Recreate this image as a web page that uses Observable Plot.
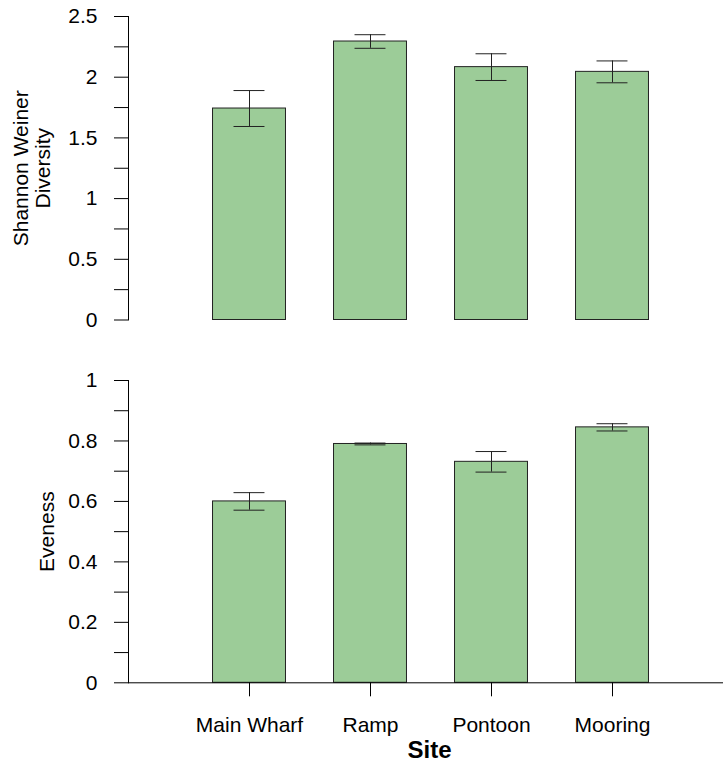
<!DOCTYPE html>
<html>
<head>
<meta charset="utf-8">
<script src="https://cdn.jsdelivr.net/npm/d3@7"></script>
<script src="https://cdn.jsdelivr.net/npm/@observablehq/plot@0.6"></script>
<style>
  html, body { margin: 0; padding: 0; background: #fff; }
  #chart { width: 723px; }
  #chart svg { display: block; }
</style>
</head>
<body>
<div id="chart"></div>
<script>
const sites = ["Main Wharf", "Ramp", "Pontoon", "Mooring"];
const shannonMean = [1.742, 2.294, 2.083, 2.044];
const shannonSE = [0.148, 0.056, 0.110, 0.090];
const evenMean = [0.600, 0.790, 0.731, 0.845];
const evenSE = [0.029, 0.003, 0.034, 0.012];
const shannonMajor = [0, 0.5, 1, 1.5, 2, 2.5];
const shannonMinor = [0.25, 0.75, 1.25, 1.75, 2.25];
const evenMajor = [0, 0.2, 0.4, 0.6, 0.8, 1];
const evenMinor = [0.1, 0.3, 0.5, 0.7, 0.9];

const FONT = "'Liberation Sans', Arial, Helvetica, sans-serif";
const FILL = "#9ccc98";
const STROKE = "#222";

function rows(mean, se) {
  return sites.map((s, i) => ({site: s, mean: mean[i], lo: mean[i] - se[i], hi: mean[i] + se[i]}));
}

const xOpts = {
  type: "band",
  domain: sites,
  range: [188.5, 672.5],
  paddingInner: 0.397,
  paddingOuter: 0.1985,
  round: false,
  label: null
};

function panel({data, height, marginTop, marginBottom, yDomain, major, minor, title, titleDx, lineHeight, showX}) {
  const marks = [
    Plot.barY(data, {x: "site", y: "mean", fill: FILL, stroke: STROKE, strokeWidth: 1}),
    Plot.ruleX(data, {x: "site", y1: "lo", y2: "hi", stroke: STROKE, strokeWidth: 1}),
    Plot.tickY(data, {x: "site", y: "lo", insetLeft: 21, insetRight: 21, stroke: STROKE, strokeWidth: 1}),
    Plot.tickY(data, {x: "site", y: "hi", insetLeft: 21, insetRight: 21, stroke: STROKE, strokeWidth: 1}),
    Plot.axisY({ticks: major, tickSize: 14, tickPadding: 17, tickFormat: d => `${d}`, fontSize: 21, label: null, stroke: "#000"}),
    Plot.axisY({ticks: minor, tickSize: 14, tickFormat: () => "", label: null, stroke: "#000"}),
    Plot.frame({anchor: "left", stroke: "#000"}),
    Plot.text([title], {text: d => d, frameAnchor: "left", textAnchor: "middle", rotate: -90, dx: titleDx, fontSize: 21, lineHeight, fill: "#000"})
  ];
  if (showX) {
    marks.push(
      Plot.frame({anchor: "bottom", stroke: "#000"}),
      Plot.axisX({tickSize: 14, tickPadding: 20, fontSize: 21, label: null, stroke: "#000"}),
      Plot.text(["Site"], {text: d => d, frameAnchor: "bottom", textAnchor: "middle", lineAnchor: "top", dx: 3.5, dy: 57.7, fontSize: 24, fontWeight: "bold", fill: "#000"})
    );
  }
  return Plot.plot({
    width: 723,
    height,
    marginTop,
    marginBottom,
    marginLeft: 128,
    marginRight: 0,
    style: {fontFamily: FONT, fontSize: "21px", color: "#000", background: "#fff"},
    x: {...xOpts, axis: null},
    y: {domain: yDomain, label: null, axis: null},
    marks
  });
}

const chart = document.getElementById("chart");
chart.appendChild(panel({
  data: rows(shannonMean, shannonSE),
  height: 340, marginTop: 16, marginBottom: 20.5,
  yDomain: [0, 2.5], major: shannonMajor, minor: shannonMinor,
  title: "Shannon Weiner\nDiversity", titleDx: -96.5, lineHeight: 1.07, showX: false
}));
chart.appendChild(panel({
  data: rows(evenMean, evenSE),
  height: 422, marginTop: 40, marginBottom: 79.7,
  yDomain: [0, 1], major: evenMajor, minor: evenMinor,
  title: "Eveness", titleDx: -81.7, lineHeight: 1, showX: true
}));
</script>
</body>
</html>
